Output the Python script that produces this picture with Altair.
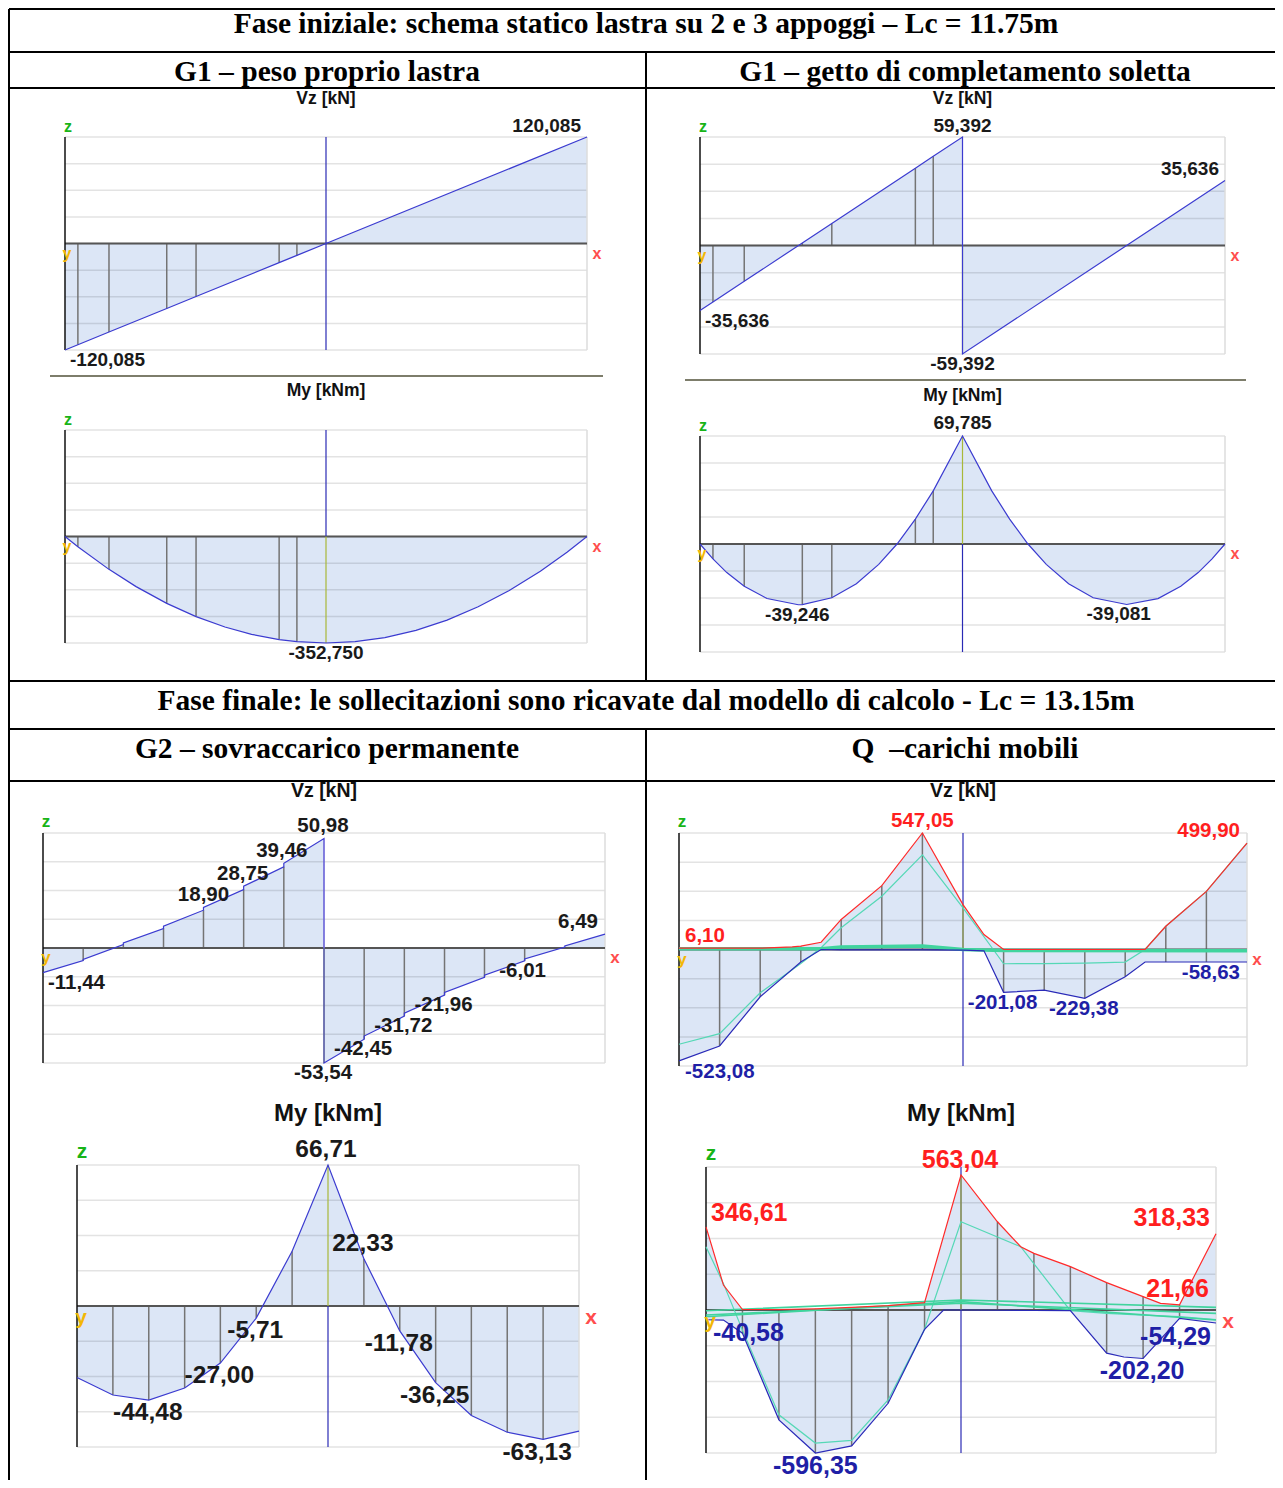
import altair as alt
import pandas as pd

OFF = 8
W, H = 1267, 1472
SANS = "Liberation Sans"
SERIF = "Liberation Serif"

# ---------------- colours ----------------
FILL = "#dce6f6"
CURVE = "#3b3bd0"
RED = "#ff2a2a"
BLUE = "#2a2ab8"
CYAN = "#55d8b6"
CYAN2 = "#40d49e"
STATION = "#747474"
ZERO = "#555555"
VBLUE = "#2a2ab4"
OLIVE = "#a8b83a"
PINK = "#f2d9f2"
TXT = "#1a1a1a"
TRED = "#ff1f1f"
TBLUE = "#1f1fa6"

# ---------------- texts ----------------
HEADERS = [
    "Fase iniziale: schema statico lastra su 2 e 3 appoggi \u2013 Lc = 11.75m",
    "G1 \u2013 peso proprio lastra",
    "G1 \u2013 getto di completamento soletta",
    "Fase finale: le sollecitazioni sono ricavate dal modello di calcolo - Lc = 13.15m",
    "G2 \u2013 sovraccarico permanente",
    "Q\u00a0\u00a0\u2013carichi mobili",
]
T_V = "Vz [kN]"
T_M = "My [kNm]"
AXIS_LETTERS = ["z", "y", "x"]

# ---------------- G1 peso proprio lastra ----------------
PP_L = 11.75
PP_ST = [0.29, 0.99, 2.29, 2.95, 4.82, 5.22]
PP_V_X = [0.0, 0.29, 0.99, 2.29, 2.95, 4.82, 5.22, 5.875, 11.75]
PP_V = [-120.085, -114.16, -99.85, -73.28, -59.79, -21.57, -13.39, 0.0, 120.085]
PP_M_X = [0.0, 0.29, 0.99, 1.60, 2.29, 2.95, 3.60, 4.20, 4.82, 5.22, 5.875,
          6.53, 7.20, 7.90, 8.60, 9.30, 10.00, 10.70, 11.30, 11.75]
PP_M = [0.0, -33.96, -108.87, -165.97, -221.40, -265.31, -299.85, -324.08, -341.38, -348.36, -352.75,
        -348.36, -334.81, -310.84, -276.86, -232.86, -178.85, -114.82, -51.97, 0.0]
PP_V_LBL = [(11.75, 120.085), (0.0, -120.085)]
PP_M_LBL = [(5.875, -352.75)]

# ---------------- G1 getto di completamento soletta ----------------
GT_L = 11.75
GT_ST = [0.29, 0.99, 2.29, 2.95, 4.82, 5.22]
GT_V_X = [0.0, 0.29, 0.99, 2.29, 2.95, 4.82, 5.22, 5.875, 5.875, 11.75]
GT_V = [-35.636, -30.95, -19.62, 1.40, 12.08, 42.33, 48.80, 59.392, -59.392, 35.636]
GT_M_X = [0.0, 0.29, 0.60, 0.99, 1.50, 2.20, 2.29, 2.95, 3.50, 4.00, 4.41, 4.82, 5.22, 5.875,
          6.53, 6.93, 7.34, 7.75, 8.25, 8.80, 9.55, 10.25, 10.76, 11.15, 11.46, 11.75]
GT_M = [0.0, -9.65, -18.47, -27.35, -35.25, -39.246, -39.20, -34.75, -25.66, -13.14, 0.0, 16.12, 34.35, 69.785,
        34.35, 16.12, 0.0, -13.14, -25.66, -34.75, -39.081, -35.25, -27.35, -18.47, -9.65, 0.0]
GT_V_LBL = [(5.875, 59.392), (11.75, 35.636), (0.0, -35.636), (5.875, -59.392)]
GT_M_LBL = [(5.875, 69.785), (2.20, -39.246), (9.55, -39.081)]

# ---------------- G2 sovraccarico permanente ----------------
F_L = 26.30
ST = [0.0, 1.88, 3.76, 5.64, 7.51, 9.39, 11.27, 13.15, 15.03, 16.91, 18.79, 20.66, 22.54, 24.42, 26.30]
ST_IN = [1.88, 3.76, 5.64, 7.51, 9.39, 11.27, 15.03, 16.91, 18.79, 20.66, 22.54, 24.42]
G2_V_X = [0.0, 1.88, 1.88, 3.76, 3.76, 5.64, 5.64, 7.51, 7.51, 9.39, 9.39, 11.27, 11.27, 13.15,
          13.15, 15.03, 15.03, 16.91, 16.91, 18.79, 18.79, 20.66, 20.66, 22.54, 22.54, 24.42, 24.42, 26.30]
G2_V = [-11.44, -5.90, -5.30, 1.60, 2.40, 9.10, 10.20, 17.60, 18.90, 27.20, 28.75, 37.80, 39.46, 50.98,
        -53.54, -42.45, -41.00, -31.72, -30.30, -21.96, -20.70, -13.60, -12.60, -6.01, -5.10, 0.40, 1.00, 6.49]
G2_M_X = ST
G2_M = [-33.8, -42.1, -44.48, -38.8, -27.00, -5.71, 25.9, 66.71, 22.33, -11.78, -36.25, -51.8, -59.7, -63.13, -59.2]
G2_V_LBL = [(13.15, 50.98), (11.27, 39.46), (9.39, 28.75), (7.51, 18.90), (0.0, -11.44), (26.30, 6.49),
            (22.54, -6.01), (18.79, -21.96), (16.91, -31.72), (15.03, -42.45), (13.15, -53.54)]
G2_M_LBL = [(13.15, 66.71), (15.03, 22.33), (9.39, -5.71), (7.51, -27.00), (3.76, -44.48),
            (16.91, -11.78), (18.79, -36.25), (24.42, -63.13)]

# ---------------- Q carichi mobili ----------------
QV_MAX_X = [0.0, 1.88, 3.76, 5.24, 5.64, 6.58, 7.51, 9.39, 11.27, 13.15, 14.12, 15.03, 16.91, 18.79, 20.66, 21.58,
            22.54, 24.42, 26.30]
QV_MAX = [6.10, 6.10, 6.10, 12.5, 15.6, 34.0, 141.0, 300.0, 547.05, 211.0, 70.0, 0.0, 0.0, 0.0, 0.0, 0.0,
          109.0, 273.0, 499.90]
QV_MIN_X = [0.0, 1.88, 3.76, 5.64, 6.58, 7.51, 9.39, 11.27, 13.15, 14.12, 15.03, 16.91, 18.79, 20.66, 21.58,
            22.54, 24.42, 26.30]
QV_MIN = [-523.08, -453.0, -222.0, -59.0, 0.0, -2.0, -2.0, -2.0, -3.0, -6.0, -201.08, -191.0, -229.38, -128.0,
          -58.63, -58.63, -58.63, -58.63]
QV_C1_X = [0.0, 1.88, 3.76, 5.64, 6.58, 7.51, 9.39, 11.27, 13.15, 15.03, 16.91, 18.79, 20.66, 21.58, 22.54, 24.42,
           26.30]
QV_C1 = [-445.0, -395.0, -203.0, -66.0, 8.0, 102.0, 250.0, 444.0, 195.0, -67.0, -66.0, -64.0, -59.0, 0.0, 109.0,
         273.0, 499.90]
QV_C2_X = [0.0, 6.58, 7.51, 11.27, 13.15, 15.03, 26.30]
QV_C2 = [3.0, 3.0, 12.0, 16.0, 0.0, -5.0, -6.0]

QM_MAX_X = [0.0, 0.90, 1.88, 3.76, 5.64, 7.51, 9.39, 11.27, 13.15, 15.03, 16.23, 16.91, 18.79, 20.66, 22.54, 23.44,
            24.42, 26.30]
QM_MAX = [346.61, 104.0, 2.0, 2.0, 5.0, 11.0, 18.0, 31.0, 563.04, 368.0, 264.0, 236.0, 181.0, 114.0, 56.0, 28.0,
          21.66, 318.33]
QM_MIN_X = [0.0, 0.90, 1.88, 3.76, 5.64, 7.51, 9.39, 11.27, 12.25, 13.15, 15.03, 16.91, 18.79, 20.66, 21.55,
            22.54, 24.42, 26.30]
QM_MIN = [-40.58, -42.0, -97.0, -458.0, -596.35, -567.0, -389.0, -81.0, 0.0, 0.0, -1.0, -2.0, -3.0, -180.0,
          -196.0, -202.20, -35.0, -54.29]
QM_C1_X = [0.0, 0.90, 1.88, 3.76, 5.64, 7.51, 9.39, 11.27, 13.15, 16.23, 18.79, 20.66, 22.54, 24.42, 26.30]
QM_C1 = [264.0, 110.0, -84.0, -437.0, -555.0, -544.0, -375.0, -80.0, 368.0, 264.0, -3.0, -14.0, -21.0, -28.0,
         -40.0]
QM_CN_X = [0.0, 13.15, 26.30]
QM_CN = [[-3.0, 42.0, 11.0], [-21.0, 28.0, -14.0], [-28.0, 35.0, -42.0]]
Q_V_LBL = [(11.27, 547.05), (26.30, 499.90), (0.0, 6.10), (0.0, -523.08), (15.03, -201.08), (18.79, -229.38),
           (26.30, -58.63)]
Q_M_LBL = [(13.15, 563.04), (0.0, 346.61), (26.30, 318.33), (24.42, 21.66), (0.0, -40.58), (26.30, -54.29),
           (22.54, -202.20), (5.64, -596.35)]


def lookup(xs, vs, x):
    for a, b in zip(xs, vs):
        if abs(a - x) < 1e-9:
            return b
    raise ValueError(x)


def fmt(v, d):
    return f"{v:.{d}f}".replace(".", ",")


def segments(xs):
    seg, out, prev = 0, [], None
    for x in xs:
        if prev is not None and abs(x - prev) < 1e-9:
            seg += 1
        out.append(seg)
        prev = x
    return out


# ---------------- layout (page pixels) ----------------
SMALL = dict(lab=19, tit=17.5, ax=16, z=(3, -10), y=(2, 10), x=(10, 10))
MID = dict(lab=20.5, tit=19.5, ax=17, z=(3, -11), y=(3, 10), x=(10, 10))
BIG = dict(lab=24.5, tit=24, ax=21, z=(5, -13), y=(4, 12), x=(12, 12))


def diagram(box, L, title, tdy, sty, curves, fills, stations, centers, labels, offs, dec):
    x0, x1, yt, yb = box
    vmax = max(abs(v) for c in curves for v in c[1])
    xs = alt.Scale(domain=[0, L], range=[x0 - OFF, x1 - OFF], nice=False, zero=False)
    ys = alt.Scale(domain=[-vmax, vmax], range=[yb - OFF, yt - OFF], nice=False, zero=False)
    X = alt.X("x:Q", scale=xs, axis=None)
    Y = alt.Y("v:Q", scale=ys, axis=None, stack=None)
    X2 = alt.X2("x2:Q")
    Y2 = alt.Y2("v2:Q")
    out = []
    for fx, fv in fills:
        df = pd.DataFrame({"x": fx, "v": fv, "v2": [0.0] * len(fx), "seg": segments(fx)})
        out.append(alt.Chart(df).mark_area(fill=FILL, fillOpacity=1, stroke=None).encode(
            x=X, y=Y, y2=Y2, detail="seg:N"))
    gv = [-vmax + k * vmax / 4 for k in range(9)]
    out.append(alt.Chart(pd.DataFrame({"x": [0.0] * 9, "x2": [L] * 9, "v": gv})).mark_rule(
        color="#000000", opacity=0.11, strokeWidth=1.5).encode(x=X, x2=X2, y=Y))
    out.append(alt.Chart(pd.DataFrame({"x": [L], "v": [-vmax], "v2": [vmax]})).mark_rule(
        color="#dddddd", strokeWidth=1.5).encode(x=X, y=Y, y2=Y2))
    sdf = pd.DataFrame({"x": [s[0] for s in stations], "v": [s[1] for s in stations],
                        "v2": [s[2] for s in stations]})
    out.append(alt.Chart(sdf).mark_rule(color=STATION, strokeWidth=1.5).encode(x=X, y=Y, y2=Y2))
    out.append(alt.Chart(pd.DataFrame({"x": [0.0], "x2": [L], "v": [0.0]})).mark_rule(
        color=ZERO, strokeWidth=2).encode(x=X, x2=X2, y=Y))
    for cx, a, b, col in centers:
        a = -vmax if a == "bot" else a
        b = vmax if b == "top" else b
        out.append(alt.Chart(pd.DataFrame({"x": [cx], "v": [a], "v2": [b]})).mark_rule(
            color=col, strokeWidth=1.2).encode(x=X, y=Y, y2=Y2))
    out.append(alt.Chart(pd.DataFrame({"x": [0.0], "v": [-vmax], "v2": [vmax]})).mark_rule(
        color="#111111", strokeWidth=1.5).encode(x=X, y=Y, y2=Y2))
    for cx, cv, col, sw in curves:
        df = pd.DataFrame({"x": cx, "v": cv, "i": list(range(len(cx)))})
        out.append(alt.Chart(df).mark_line(color=col, strokeWidth=sw).encode(
            x=X, y=Y, order=alt.Order("i:Q")))
    # title
    out.append(alt.Chart(pd.DataFrame({"x": [L / 2], "v": [vmax], "t": [title]})).mark_text(
        dy=tdy, font=SANS, fontSize=sty["tit"], fontWeight="bold", color="#111111", baseline="middle",
        align="center").encode(x=X, y=Y, text="t:N"))
    # axis letters
    for letter, (ax, av), col, key in zip(AXIS_LETTERS, [(0.0, vmax), (0.0, 0.0), (L, 0.0)],
                                          ["#18b418", "#f2b705", "#ff4d4d"], ["z", "y", "x"]):
        dx, dy = sty[key]
        out.append(alt.Chart(pd.DataFrame({"x": [ax], "v": [av], "t": [letter]})).mark_text(
            dx=dx, dy=dy, font=SANS, fontSize=sty["ax"], fontWeight="bold", color=col,
            baseline="middle", align="center").encode(x=X, y=Y, text="t:N"))
    # value labels
    for (lx, lv), (dx, dy, al, col) in zip(labels, offs):
        out.append(alt.Chart(pd.DataFrame({"x": [lx], "v": [lv], "t": [fmt(lv, dec)]})).mark_text(
            dx=dx, dy=dy, align=al, baseline="middle", font=SANS, fontSize=sty["lab"], fontWeight="bold",
            color=col).encode(x=X, y=Y, text="t:N"))
    return alt.layer(*out)


def single_stations(xs, vs, st):
    return [(s, 0.0, lookup(xs, vs, s)) for s in st]


def env_stations(xa, va, xb, vb, st):
    return [(s, lookup(xa, va, s), lookup(xb, vb, s)) for s in st]


K = TXT
diagrams = [
    diagram((65, 587, 137, 350), PP_L, T_V, -38, SMALL,
            [(PP_V_X, PP_V, CURVE, 1.2)], [(PP_V_X, PP_V)],
            single_stations(PP_V_X, PP_V, PP_ST),
            [(5.875, "bot", "top", VBLUE)],
            PP_V_LBL, [(-6, -11, "right", K), (5, 10, "left", K)], 3),
    diagram((65, 587, 430, 643), PP_L, T_M, -39, SMALL,
            [(PP_M_X, PP_M, CURVE, 1.2)], [(PP_M_X, PP_M)],
            single_stations(PP_M_X, PP_M, PP_ST),
            [(5.875, 0.0, "top", VBLUE), (5.875, lookup(PP_M_X, PP_M, 5.875), 0.0, OLIVE)],
            PP_M_LBL, [(0, 10, "center", K)], 3),
    diagram((700, 1225, 137, 354), GT_L, T_V, -38, SMALL,
            [(GT_V_X, GT_V, CURVE, 1.2)], [(GT_V_X, GT_V)],
            single_stations(GT_V_X, GT_V, GT_ST),
            [(5.875, 0.0, 59.392, PINK), (5.875, -59.392, 0.0, OLIVE)],
            GT_V_LBL, [(0, -11, "center", K), (-6, -11, "right", K), (5, 10, "left", K), (0, 10, "center", K)], 3),
    diagram((700, 1225, 436, 652), GT_L, T_M, -40, SMALL,
            [(GT_M_X, GT_M, CURVE, 1.2)], [(GT_M_X, GT_M)],
            single_stations(GT_M_X, GT_M, GT_ST),
            [(5.875, 0.0, lookup(GT_M_X, GT_M, 5.875), OLIVE), (5.875, "bot", 0.0, VBLUE)],
            GT_M_LBL, [(0, -13, "center", K), (-1, 10, "center", K), (-8, 10, "center", K)], 3),
    diagram((43, 605, 833, 1063), F_L, T_V, -42, MID,
            [(G2_V_X, G2_V, CURVE, 1.2)], [(G2_V_X, G2_V)],
            single_stations(G2_V_X, G2_V, ST_IN),
            [(13.15, 0.0, 50.98, PINK), (13.15, -53.54, 0.0, OLIVE)],
            G2_V_LBL, [(-1, -12, "center", K), (-2, -12, "center", K), (-1, -12, "center", K),
                       (0, -12, "center", K), (5, 10, "left", K), (-7, -12, "right", K),
                       (-2, 10, "center", K), (-1, 10, "center", K), (-1, 10, "center", K),
                       (-1, 10, "center", K), (-1, 10, "center", K)], 2),
    diagram((77, 579, 1165, 1447), F_L, T_M, -51, BIG,
            [(G2_M_X, G2_M, CURVE, 1.2)], [(G2_M_X, G2_M)],
            single_stations(G2_M_X, G2_M, ST_IN),
            [(13.15, 0.0, 66.71, OLIVE), (13.15, "bot", 0.0, VBLUE)],
            G2_M_LBL, [(-2, -15, "center", K), (-1, -15, "center", K), (-1, 13, "center", K),
                       (-1, 13, "center", K), (-1, 13, "center", K), (-1, 13, "center", K),
                       (-1, 13, "center", K), (-6, 14, "center", K)], 2),
    diagram((679, 1247, 833, 1066), F_L, T_V, -42, MID,
            [(QV_C1_X, QV_C1, CYAN, 1.2), (QV_C2_X, QV_C2, CYAN2, 3.5),
             (QV_MAX_X, QV_MAX, RED, 1.2), (QV_MIN_X, QV_MIN, BLUE, 1.2)],
            [(QV_MAX_X, QV_MAX), (QV_MIN_X, QV_MIN)],
            env_stations(QV_MAX_X, QV_MAX, QV_MIN_X, QV_MIN, ST_IN),
            [(13.15, "bot", "top", VBLUE), (13.15, 0.0, lookup(QV_MAX_X, QV_MAX, 13.15), OLIVE)],
            Q_V_LBL, [(0, -12, "center", TRED), (-7, -12, "right", TRED), (6, -12, "left", TRED),
                      (6, 11, "left", TBLUE), (-1, 11, "center", TBLUE), (-1, 11, "center", TBLUE),
                      (-7, 11, "right", TBLUE)], 2),
    diagram((706, 1216, 1167, 1453), F_L, T_M, -53, dict(BIG, lab=25),
            [(QM_C1_X, QM_C1, CYAN, 1.2)] + [(QM_CN_X, c, CYAN2, 1.6) for c in QM_CN] +
            [(QM_MAX_X, QM_MAX, RED, 1.2), (QM_MIN_X, QM_MIN, BLUE, 1.2)],
            [(QM_MAX_X, QM_MAX), (QM_MIN_X, QM_MIN)],
            env_stations(QM_MAX_X, QM_MAX, QM_MIN_X, QM_MIN, ST_IN),
            [(13.15, "bot", "top", VBLUE), (13.15, 0.0, lookup(QM_MAX_X, QM_MAX, 13.15), OLIVE)],
            Q_M_LBL, [(-1, -15, "center", TRED), (5, -14, "left", TRED), (-6, -16, "right", TRED),
                      (-2, -16, "center", TRED), (7, 13, "left", TBLUE), (-5, 14, "right", TBLUE),
                      (-1, 13, "center", TBLUE), (0, 13, "center", TBLUE)], 2),
]

# ---------------- table frame ----------------
RIGHT = 1283
BORDERS = [  # (x, x2, y, y2) page coords
    (9, RIGHT, 9, 9), (9, RIGHT, 52, 52), (9, RIGHT, 88, 88), (9, RIGHT, 681, 681),
    (9, RIGHT, 729, 729), (9, RIGHT, 781, 781),
    (9, 9, 9, 1488), (646, 646, 52, 681), (646, 646, 729, 1488),
]
SEPARATORS = [(50, 603, 376, 376), (685, 1246, 380, 380)]
HEADER_POS = [(646, 24, 29.5), (327, 72, 29.5), (965, 72, 29.5), (646, 701, 29.5), (327, 749, 29.5),
              (965, 749, 29.5)]

PX = alt.X("px:Q", scale=None)
PX2 = alt.X2("px2:Q")
PY = alt.Y("py:Q", scale=None)
PY2 = alt.Y2("py2:Q")


def frame_df(rows):
    return pd.DataFrame({"px": [r[0] - OFF for r in rows], "px2": [r[1] - OFF for r in rows],
                         "py": [r[2] - OFF for r in rows], "py2": [r[3] - OFF for r in rows]})


frame = [
    alt.Chart(frame_df(BORDERS)).mark_rule(color="#000000", strokeWidth=2).encode(x=PX, x2=PX2, y=PY, y2=PY2),
    alt.Chart(frame_df(SEPARATORS)).mark_rule(color="#7d7d6b", strokeWidth=2).encode(x=PX, x2=PX2, y=PY, y2=PY2),
]
for t, (cx, cy, fs) in zip(HEADERS, HEADER_POS):
    frame.append(alt.Chart(pd.DataFrame({"px": [cx - OFF], "py": [cy - OFF], "t": [t]})).mark_text(
        font=SERIF, fontSize=fs, fontWeight="bold", baseline="middle", align="center", color="#000000").encode(
        x=PX, y=PY, text="t:N"))

chart = alt.layer(*diagrams, *frame).resolve_scale(x="independent", y="independent").properties(
    width=W, height=H, autosize=alt.AutoSizeParams(type="none"), padding=0, background="white"
).configure_view(stroke=None)

chart.save("out.html", embed_options={"renderer": "svg", "actions": False})
